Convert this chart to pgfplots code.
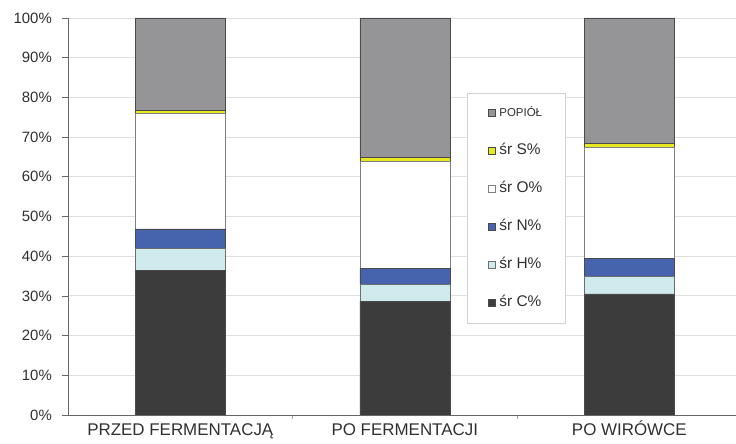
\documentclass[border=0pt]{standalone}
\usepackage{fontspec}
\setmainfont{Liberation Sans}
\usepackage{pgfplots}
\pgfplotsset{compat=1.18}
\definecolor{cC}{HTML}{3C3C3C}
\definecolor{cH}{HTML}{CFEBEE}
\definecolor{cN}{HTML}{4664AD}
\definecolor{cO}{HTML}{FFFFFF}
\definecolor{cS}{HTML}{E8E820}
\definecolor{cA}{HTML}{959598}
\definecolor{edge}{HTML}{4A4A4A}
\definecolor{txt}{HTML}{303030}
\begin{document}
\begin{tikzpicture}
\path[use as bounding box] (-68bp,-29bp) rectangle (668bp,415bp);
\begin{axis}[
  at={(0,0)}, anchor=south west,
  scale only axis, width=668bp, height=397bp,
  ybar stacked, bar width=90bp,
  xmin=-0.5, xmax=2.475, ymin=0, ymax=100,
  axis x line*=bottom, axis y line*=left,
  axis line style={draw=gray!80!black, line width=0.8bp},
  xtick={0,1,2},
  xticklabels={PRZED FERMENTACJĄ, PO FERMENTACJI, PO WIRÓWCE},
  x tick style={draw=none},
  minor xtick={0.5,1.5},
  minor x tick style={draw=gray!70, line width=0.6bp},
  minor tick length=4bp,
  ytick={0,10,...,100},
  y tick style={draw=gray!80!black, line width=0.6bp},
  major tick length=6bp,
  tick align=outside,
  ymajorgrids, grid style={draw=gray!25, line width=0.8bp},
  /pgf/number format/assume math mode=true,
  yticklabel={\pgfmathprintnumber{\tick}\%},
  yticklabel style={font=\fontsize{15}{17}\selectfont, text=txt, anchor=east, inner sep=0pt, xshift=-10bp},
  xticklabel style={font=\fontsize{17}{19}\selectfont, text=txt, anchor=north, inner sep=0pt, text height=12bp, text depth=3bp, yshift=-2bp},
  every axis plot/.append style={draw=edge, line width=0.6bp},
  reverse legend,
  legend style={at={(0.598,0.812)}, anchor=north west, draw=gray!35, line width=0.6bp,
    inner xsep=20bp, inner ysep=11bp, row sep=20bp,
    font=\fontsize{15.5}{17}\selectfont, text=txt,
    nodes={inner ysep=2pt, inner xsep=3.5bp, text height=11bp, text depth=3bp, anchor=west}},
  legend cell align=left,
  legend image code/.code={\draw[#1,/tikz/.cd,line width=0.6bp] (0bp,-3.5bp) rectangle (7.5bp,4bp);},
]
\addplot[fill=cC] coordinates {(0,36.5) (1,28.7) (2,30.5)};
\addplot[fill=cH, draw=edge!80] coordinates {(0,5.5) (1,4.2) (2,4.5)};
\addplot[fill=cN] coordinates {(0,4.9) (1,4.05) (2,4.4)};
\addplot[fill=cO, draw=gray] coordinates {(0,29.1) (1,26.95) (2,28.1)};
\addplot[fill=cS] coordinates {(0,0.7) (1,1.0) (2,0.9)};
\addplot[fill=cA] coordinates {(0,23.3) (1,35.1) (2,31.6)};
\legend{śr C\%, śr H\%, śr N\%, śr O\%, śr S\%, {\fontsize{11.5}{13}\selectfont POPIÓŁ}}
\end{axis}
\end{tikzpicture}
\end{document}
